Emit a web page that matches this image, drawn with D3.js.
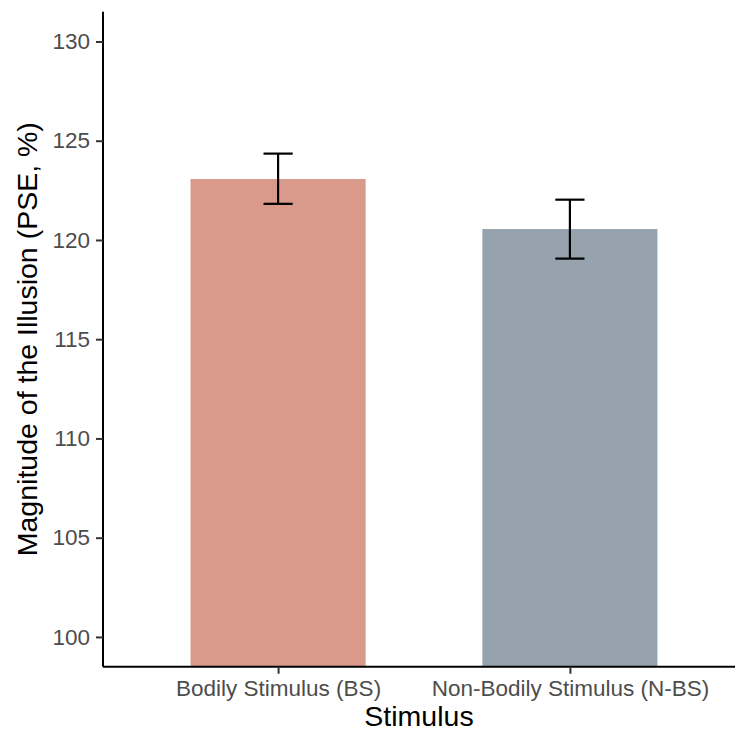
<!DOCTYPE html>
<html>
<head>
<meta charset="utf-8">
<script src="https://cdn.jsdelivr.net/npm/d3@7"></script>
<style>
  body { margin: 0; background: #fff; }
  svg { display: block; font-family: "Liberation Sans", Arial, sans-serif; }
</style>
</head>
<body>
<div id="chart"></div>
<script>
const categories = ["Bodily Stimulus (BS)", "Non-Bodily Stimulus (N-BS)"];
const means = [123.07, 120.55];
const errLow = [121.82, 119.06];
const errHigh = [124.35, 122.03];
const barColors = ["#D99A8C", "#96A3AE"];
const yTicks = [100, 105, 110, 115, 120, 125, 130];

const width = 735, height = 731;
const panel = { left: 103, right: 745, top: 11.7, bottom: 666.7 };

const svg = d3.select('#chart').append('svg')
  .attr('width', width).attr('height', height);

const x = d3.scalePoint().domain(categories)
  .range([panel.left, panel.right]).padding(0.6);
const y = d3.scaleLinear().domain([98.5, 131.5])
  .range([panel.bottom, panel.top]);
const barW = x.step() * 0.6;

// bars (start below the visible range, like coord_cartesian)
svg.append('g').selectAll('rect')
  .data(categories)
  .join('rect')
  .attr('x', d => x(d) - barW / 2)
  .attr('width', barW)
  .attr('y', (d, i) => y(means[i]))
  .attr('height', (d, i) => y(98.5) - y(means[i]))
  .attr('fill', (d, i) => barColors[i]);

// error bars
const eb = svg.append('g').attr('stroke', '#000').attr('stroke-width', 2.2).attr('fill', 'none');
const capW = x.step() * 0.1;
categories.forEach((c, i) => {
  const cx = x(c);
  eb.append('line').attr('x1', cx).attr('x2', cx).attr('y1', y(errLow[i])).attr('y2', y(errHigh[i]));
  eb.append('line').attr('x1', cx - capW / 2).attr('x2', cx + capW / 2).attr('y1', y(errLow[i])).attr('y2', y(errLow[i]));
  eb.append('line').attr('x1', cx - capW / 2).attr('x2', cx + capW / 2).attr('y1', y(errHigh[i])).attr('y2', y(errHigh[i]));
});

// y axis
const yAxis = svg.append('g').attr('transform', `translate(${panel.left},0)`)
  .call(d3.axisLeft(y).tickValues(yTicks).tickSize(7).tickPadding(6));
yAxis.select('.domain').attr('d', `M0,${panel.top}V${panel.bottom}`).attr('stroke', '#000').attr('stroke-width', 2);
yAxis.selectAll('.tick line').attr('stroke', '#333').attr('stroke-width', 2);
yAxis.selectAll('.tick text').attr('fill', '#4D4D4D').attr('font-size', '22.5px')
  .attr('font-family', '"Liberation Sans", Arial, sans-serif');

// x axis
const xAxis = svg.append('g').attr('transform', `translate(0,${panel.bottom})`)
  .call(d3.axisBottom(x).tickSize(7).tickPadding(6));
xAxis.select('.domain').attr('d', `M${panel.left},0H${panel.right}`).attr('stroke', '#000').attr('stroke-width', 2);
xAxis.selectAll('.tick line').attr('stroke', '#333').attr('stroke-width', 2);
xAxis.selectAll('.tick text').attr('fill', '#4D4D4D').attr('font-size', '22.5px')
  .attr('font-family', '"Liberation Sans", Arial, sans-serif');

// axis titles
svg.append('text')
  .attr('x', (panel.left + 735) / 2 + 0).attr('y', 726)
  .attr('text-anchor', 'middle').attr('font-size', '28.5px').attr('fill', '#000')
  .text('Stimulus');

svg.append('text')
  .attr('transform', `translate(36.5,${(panel.top + panel.bottom) / 2}) rotate(-90)`)
  .attr('text-anchor', 'middle').attr('font-size', '28.5px').attr('fill', '#000')
  .text('Magnitude of the Illusion (PSE, %)');
</script>
</body>
</html>
